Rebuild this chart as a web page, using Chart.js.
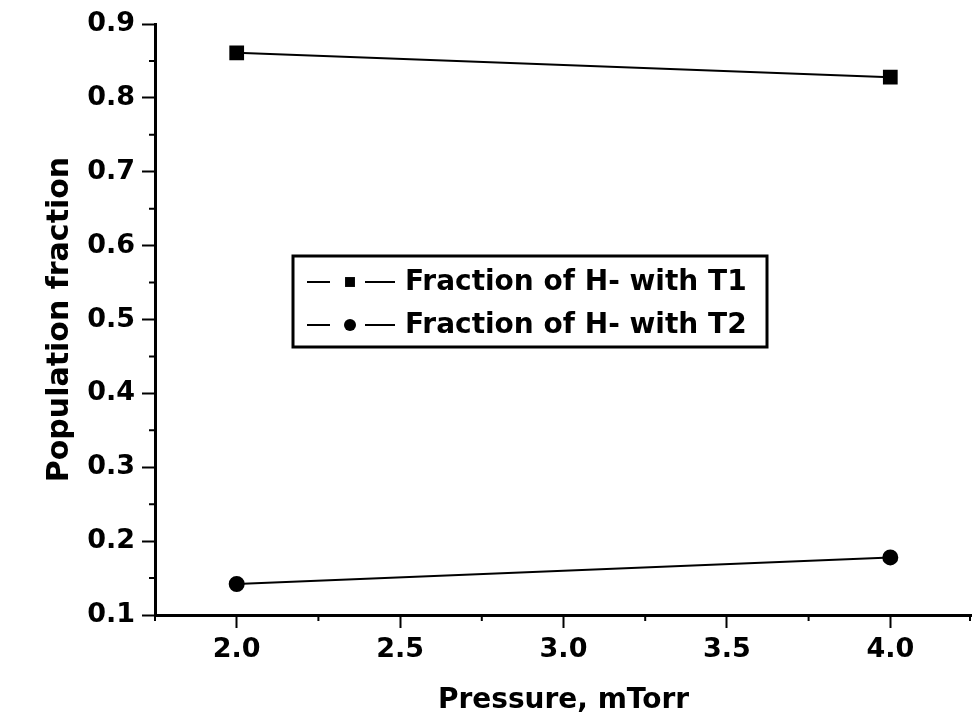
<!DOCTYPE html>
<html>
<head>
<meta charset="utf-8">
<script src="https://cdn.jsdelivr.net/npm/chart.js@4.4.0/dist/chart.umd.min.js"></script>
<style>
  html, body { margin: 0; padding: 0; background: #fff; overflow: hidden; }
  canvas { display: block; }
</style>
</head>
<body>
<canvas id="chart" width="972" height="726"></canvas>
<script>
const pressure = [2.0, 4.0];
const fractionT1 = [0.861, 0.828];
const fractionT2 = [0.142, 0.178];
const seriesLabels = ['Fraction of H- with T1', 'Fraction of H- with T2'];
const xTicks = [2.0, 2.5, 3.0, 3.5, 4.0];
const yTicks = [0.1, 0.2, 0.3, 0.4, 0.5, 0.6, 0.7, 0.8, 0.9];

const FONT = '"DejaVu Sans", "Liberation Sans", Arial, sans-serif';

// half-step ticks between the labelled ones
function minorValues(major, min, max) {
  const half = (major[1] - major[0]) / 2;
  const out = [major[0] - half, ...major.map(v => v + half)];
  return out.filter(v => v >= min - 1e-9 && v <= max + 1e-9);
}

const minorTicks = {
  id: 'minorTicks',
  afterDraw(chart) {
    const { ctx, scales: { x, y } } = chart;
    const len = 6;
    ctx.save();
    ctx.strokeStyle = '#000';
    ctx.lineWidth = 2;
    ctx.beginPath();
    minorValues(xTicks, x.min, x.max).forEach(v => {
      const px = Math.min(x.getPixelForValue(v), chart.width - 2);
      ctx.moveTo(px, y.bottom);
      ctx.lineTo(px, y.bottom + len);
    });
    minorValues(yTicks, y.min, y.max).forEach(v => {
      const py = y.getPixelForValue(v);
      ctx.moveTo(x.left, py);
      ctx.lineTo(x.left - len, py);
    });
    ctx.stroke();
    ctx.restore();
  }
};

// framed legend sitting inside the plot
const boxLegend = {
  id: 'boxLegend',
  afterDraw(chart, args, opts) {
    const { ctx } = chart;
    ctx.save();
    ctx.strokeStyle = '#000';
    ctx.lineWidth = 3;
    ctx.strokeRect(opts.left, opts.top, opts.width, opts.height);
    chart.data.datasets.forEach((ds, i) => {
      const cy = opts.firstRow + i * opts.rowGap;
      const sx = opts.left + 14;
      ctx.lineWidth = 2;
      ctx.beginPath();
      ctx.moveTo(sx, cy); ctx.lineTo(sx + 23, cy);
      ctx.moveTo(sx + 58, cy); ctx.lineTo(sx + 88, cy);
      ctx.stroke();
      ctx.fillStyle = '#000';
      Chart.helpers.drawPoint(ctx, {
        pointStyle: ds.pointStyle, radius: ds.legendRadius, borderWidth: 0
      }, sx + 43, cy);
      ctx.font = 'bold 28px ' + FONT;
      ctx.textBaseline = 'middle';
      ctx.textAlign = 'left';
      ctx.fillText(ds.label, sx + 98, cy + 1);
    });
    ctx.restore();
  }
};

const toPoints = vals => pressure.map((p, i) => ({ x: p, y: vals[i] }));

new Chart(document.getElementById('chart'), {
  type: 'line',
  data: {
    datasets: [
      {
        label: seriesLabels[0],
        data: toPoints(fractionT1),
        pointStyle: 'rect',
        pointRadius: 9,
        legendRadius: 7,
        borderColor: '#000',
        backgroundColor: '#000',
        borderWidth: 2,
        clip: false
      },
      {
        label: seriesLabels[1],
        data: toPoints(fractionT2),
        pointStyle: 'circle',
        pointRadius: 7,
        legendRadius: 6,
        borderColor: '#000',
        backgroundColor: '#000',
        borderWidth: 2,
        clip: false
      }
    ]
  },
  options: {
    responsive: false,
    animation: false,
    layout: { autoPadding: false, padding: { top: 24, right: 0, left: 0, bottom: 0 } },
    scales: {
      x: {
        type: 'linear',
        min: 1.75,
        max: 4.25,
        afterBuildTicks: s => { s.ticks = xTicks.map(v => ({ value: v })); },
        afterFit: s => { s.height = 111; s.paddingLeft = 0; s.paddingRight = 0; },
        border: { display: true, color: '#000', width: 3 },
        grid: { drawOnChartArea: false, drawTicks: true, tickLength: 13, tickWidth: 2, tickColor: '#000' },
        ticks: {
          color: '#000',
          padding: 6,
          font: { family: FONT, size: 27, weight: 'bold' },
          callback: v => v.toFixed(1)
        },
        title: {
          display: true,
          text: 'Pressure, mTorr',
          color: '#000',
          font: { family: FONT, size: 28, weight: 'bold' },
          padding: { top: 0, bottom: 8 }
        }
      },
      y: {
        type: 'linear',
        min: 0.1,
        max: 0.9,
        afterBuildTicks: s => { s.ticks = yTicks.map(v => ({ value: v })); },
        afterFit: s => { s.width = 155; s.paddingTop = 0; s.paddingBottom = 0; },
        border: { display: true, color: '#000', width: 3 },
        grid: { drawOnChartArea: false, drawTicks: true, tickLength: 13, tickWidth: 2, tickColor: '#000' },
        ticks: {
          color: '#000',
          padding: 7,
          font: { family: FONT, size: 27, weight: 'bold' },
          callback: v => v.toFixed(1)
        },
        title: {
          display: true,
          text: 'Population fraction',
          color: '#000',
          font: { family: FONT, size: 30, weight: 'bold' },
          padding: { top: 42, bottom: 0 }
        }
      }
    },
    plugins: {
      legend: { display: false },
      tooltip: { enabled: false },
      boxLegend: { left: 293, top: 256, width: 474, height: 91, firstRow: 282, rowGap: 43 }
    }
  },
  plugins: [minorTicks, boxLegend]
});
</script>
</body>
</html>
